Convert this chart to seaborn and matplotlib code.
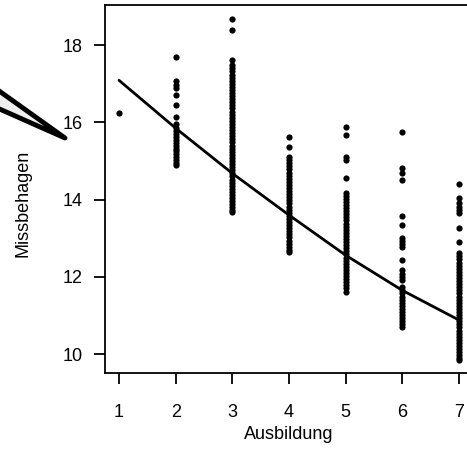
import pandas as pd
import seaborn as sns
import matplotlib.pyplot as plt
from matplotlib.patches import Polygon

# Missbehagen values per Ausbildung level
grp1 = [16.25]
grp2 = [17.69, 17.08, 16.98, 16.88, 16.72, 16.46, 16.13, 15.95,
        15.85, 15.78, 15.7, 15.62, 15.55, 15.47, 15.4, 15.32, 15.25,
        15.18, 15.1, 15.03, 14.96, 14.9]
grp3 = [18.67, 18.39, 17.61, 17.48, 17.4, 17.32, 17.24, 17.15, 17.07,
        17.0, 16.92, 16.84, 16.76, 16.68, 16.6, 16.52, 16.44, 16.36,
        16.28, 16.2, 16.12, 16.04, 15.96, 15.88, 15.8, 15.72, 15.64,
        15.56, 15.48, 15.4, 15.32, 15.24, 15.16, 15.08, 15.0, 14.92,
        14.84, 14.76, 14.68, 14.6, 14.52, 14.44, 14.36, 14.28, 14.2,
        14.12, 14.04, 13.96, 13.88, 13.8, 13.72, 13.67]
grp4 = [15.62, 15.36, 15.1, 15.02, 14.94, 14.86, 14.78, 14.7, 14.62,
        14.54, 14.46, 14.38, 14.3, 14.22, 14.14, 14.06, 13.98, 13.9,
        13.82, 13.74, 13.66, 13.58, 13.5, 13.42, 13.34, 13.26, 13.18,
        13.1, 13.02, 12.94, 12.86, 12.78, 12.7, 12.64]
grp5 = [15.88, 15.67, 15.1, 15.02, 14.55, 14.17, 14.1, 14.02, 13.94,
        13.86, 13.78, 13.7, 13.62, 13.54, 13.46, 13.38, 13.3, 13.22,
        13.14, 13.06, 12.98, 12.9, 12.82, 12.74, 12.66, 12.58, 12.5,
        12.42, 12.34, 12.26, 12.18, 12.1, 12.02, 11.94, 11.86, 11.78,
        11.7, 11.62]
grp6 = [15.75, 14.81, 14.7, 14.5, 13.57, 13.34, 13.0, 12.92, 12.85,
        12.77, 12.43, 12.17, 12.08, 12.0, 11.91, 11.73, 11.65, 11.57,
        11.49, 11.41, 11.33, 11.25, 11.17, 11.09, 11.01, 10.93, 10.85,
        10.77, 10.69]
grp7 = [14.4, 14.04, 13.9, 13.82, 13.74, 13.65, 13.26, 12.9, 12.61,
        12.53, 12.45, 12.37, 12.29, 12.21, 12.13, 12.05, 11.97, 11.89,
        11.81, 11.73, 11.65, 11.57, 11.49, 11.41, 11.33, 11.25, 11.17,
        11.09, 11.01, 10.93, 10.85, 10.77, 10.69, 10.61, 10.53, 10.45,
        10.37, 10.29, 10.21, 10.13, 10.05, 9.97, 9.9, 9.84]

# fitted curve
fit_x = [1, 2, 3, 4, 5, 6, 7]
fit_y = [17.09, 15.85, 14.68, 13.6, 12.56, 11.65, 10.88]

groups = [grp1, grp2, grp3, grp4, grp5, grp6, grp7]
rows = []
for lvl, vals in zip(fit_x, groups):
    for v in vals:
        rows.append({"Ausbildung": lvl, "Missbehagen": v})
df = pd.DataFrame(rows)
fit = pd.DataFrame({"Ausbildung": fit_x, "Missbehagen": fit_y})

sns.set_style("ticks")
plt.rcParams['font.family'] = ['Liberation Sans', 'DejaVu Sans']

fig = plt.figure(figsize=(4.67, 4.72), dpi=100)
ax = fig.add_axes([105 / 467, 99 / 472, 368 / 467, 368 / 472])

sns.scatterplot(x="Ausbildung", y="Missbehagen", data=df, color="black",
                s=20, linewidth=0, ax=ax)
sns.lineplot(x="Ausbildung", y="Missbehagen", data=fit, color="black",
             linewidth=2, ax=ax)

ax.set_xlim(0.753, 7.247)
ax.set_ylim(9.51, 19.04)
ax.set_xticks(fit_x)
ax.set_yticks([10, 12, 14, 16, 18])
ax.tick_params(axis="both", length=8, width=1.3, labelsize=13,
               color="black", labelcolor="black")
ax.tick_params(axis="x", pad=14)
ax.tick_params(axis="y", pad=8)
for sp in ax.spines.values():
    sp.set_visible(True)
    sp.set_linewidth(1.3)
    sp.set_color("black")

ax.set_xlabel("Ausbildung", fontsize=13, color="black", labelpad=4)
ax.set_ylabel("Missbehagen", fontsize=13, color="black")
ax.yaxis.set_label_coords(-0.2, 0.46)

# wedge pointer leaking in from the left
wedge = Polygon([(-5 / 467, 1 - 88 / 472), (65 / 467, 1 - 138 / 472),
                 (-5 / 467, 1 - 107 / 472)], closed=True,
                transform=fig.transFigure, facecolor="#eeeeee",
                edgecolor="black", linewidth=3.5, joinstyle="round")
fig.add_artist(wedge)

plt.savefig("out.png", dpi=100)
